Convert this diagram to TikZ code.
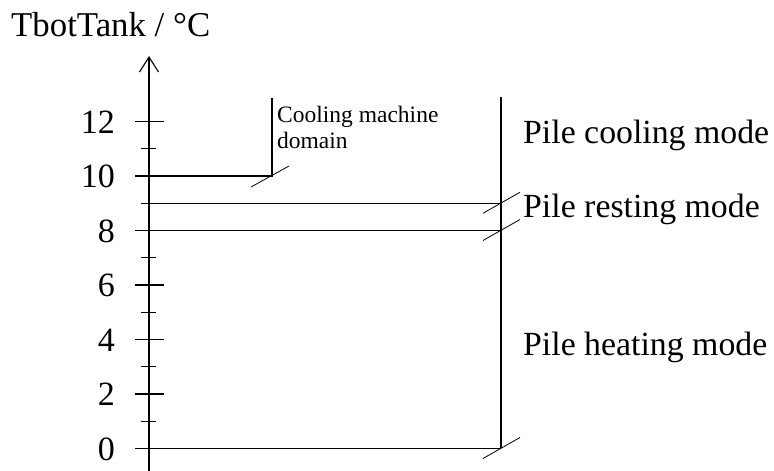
\documentclass[tikz,border=0pt]{standalone}
\usepackage{fontspec}
\setmainfont{Liberation Serif}
\usetikzlibrary{arrows.meta}
\begin{document}
\begin{tikzpicture}[x=1pt,y=-1pt,
  axisline/.style={line width=1.2pt},
  mainline/.style={line width=1.2pt},
  slashline/.style={line width=0.8pt},
  bigtext/.style={font=\fontsize{33.8}{38}\selectfont, inner sep=0pt},
  numtext/.style={font=\fontsize{34}{38}\selectfont, inner sep=0pt},
  titletext/.style={font=\fontsize{34.8}{40}\selectfont, inner sep=0pt},
  smalltext/.style={font=\fontsize{23.5}{26}\selectfont, inner sep=0pt, align=left}]
\useasboundingbox (0,0) rectangle (774,471);
\def\yv#1{448.5-27.25*#1}
% axis
\coordinate (axb) at (149,471);
\coordinate (axt) at (149,56);
\draw[axisline,-{Straight Barb[length=15pt,width=19pt,line width=1.1pt]}] (axb) -- (axt);
% major ticks and labels
\foreach \v in {0,2,...,12}{
  \coordinate (tl\v) at (135,{\yv{\v}});
  \coordinate (tr\v) at (164,{\yv{\v}});
  \draw[axisline] (tl\v) -- (tr\v);
  \node[numtext, anchor=base east] (lab\v) at (115,{\yv{\v}+11.5}) {\v};
}
% minor ticks
\foreach \v in {1,3,...,11}{
  \coordinate (ml\v) at (141,{\yv{\v}});
  \coordinate (mr\v) at (156,{\yv{\v}});
  \draw[axisline] (ml\v) -- (mr\v);
}
% title
\node[titletext, anchor=base west] (title) at (11,36) {TbotTank / °C};
% cooling machine domain
\coordinate (c10a) at (149,{\yv{10}});
\coordinate (c10b) at (272,{\yv{10}});
\coordinate (c10t) at (272,98);
\draw[mainline] (c10a) -- (c10b) -- (c10t);
\coordinate (s10a) at (251,187);
\coordinate (s10b) at (289,166);
\draw[slashline] (s10a) -- (s10b);
\node[smalltext, anchor=base west] (cmd) at (277,122) {Cooling machine};
\node[smalltext, anchor=base west] (cmd2) at (277,148) {domain};
% right boundary
\coordinate (rt) at (501,97);
\coordinate (rb) at (501,448);
\draw[mainline] (rt) -- (rb);
\foreach \v in {0,8,9}{
  \coordinate (hl\v) at (149,{\yv{\v}});
  \coordinate (hr\v) at (501,{\yv{\v}});
  \draw[mainline] (hl\v) -- (hr\v);
  \coordinate (sa\v) at (483,{\yv{\v}+10});
  \coordinate (sb\v) at (520,{\yv{\v}-11});
  \draw[slashline] (sa\v) -- (sb\v);
}
% mode labels
\node[bigtext, anchor=base west] (cool) at (523,143) {Pile cooling mode};
\node[bigtext, anchor=base west] (rest) at (523,217) {Pile resting mode};
\node[bigtext, anchor=base west] (heat) at (523,355) {Pile heating mode};
\end{tikzpicture}
\end{document}
